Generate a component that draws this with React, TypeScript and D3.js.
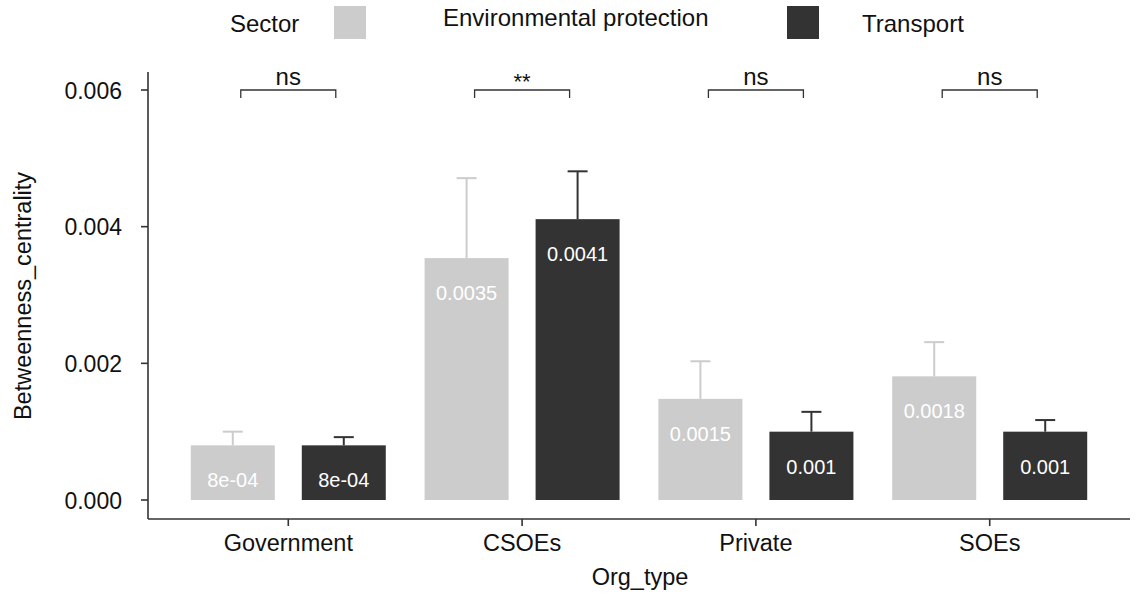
import { useRef, useEffect } from 'react';
import * as d3 from 'd3';

const orgTypes = ['Government', 'CSOEs', 'Private', 'SOEs'];
const sectors = ['Environmental protection', 'Transport'];
const envMeans = [0.0008, 0.00354, 0.00148, 0.00181];
const envUpper = [0.001, 0.00471, 0.00203, 0.00231];
const transMeans = [0.0008, 0.00411, 0.001, 0.001];
const transUpper = [0.00092, 0.00481, 0.00129, 0.00117];
const envLabels = ['8e-04', '0.0035', '0.0015', '0.0018'];
const transLabels = ['8e-04', '0.0041', '0.001', '0.001'];
const signif = ['ns', '**', 'ns', 'ns'];
const yTicks = [0, 0.002, 0.004, 0.006];

const colors = ['#cccccc', '#333333'];
const FONT = '"Liberation Sans", Arial, Helvetica, sans-serif';

function App() {
  const svgRef = useRef(null);

  useEffect(() => {
    const svg = d3.select(svgRef.current);
    svg.selectAll('*').remove();

    const left = 148;
    const right = 1130;
    const axisY = 519;

    const x = d3.scaleBand().domain(orgTypes).range([left, right]).paddingOuter(0.1).paddingInner(0);
    const y = d3.scaleLinear().domain([0, 0.006]).range([500, 90]);

    const step = x.bandwidth();
    const center = (d) => x(d) + step / 2;
    const barW = 84;
    const offset = 55.5;

    const series = [
      { means: envMeans, upper: envUpper, labels: envLabels, dx: -offset, color: colors[0] },
      { means: transMeans, upper: transUpper, labels: transLabels, dx: offset, color: colors[1] },
    ];

    const g = svg.append('g');

    series.forEach((s) => {
      orgTypes.forEach((o, i) => {
        const cx = center(o) + s.dx;
        // error bar (upper whisker only)
        g.append('line')
          .attr('x1', cx).attr('x2', cx)
          .attr('y1', y(s.means[i])).attr('y2', y(s.upper[i]))
          .attr('stroke', s.color).attr('stroke-width', 2);
        g.append('line')
          .attr('x1', cx - 10).attr('x2', cx + 10)
          .attr('y1', y(s.upper[i])).attr('y2', y(s.upper[i]))
          .attr('stroke', s.color).attr('stroke-width', 2);
        g.append('rect')
          .attr('x', cx - barW / 2)
          .attr('y', y(s.means[i]))
          .attr('width', barW)
          .attr('height', y(0) - y(s.means[i]))
          .attr('fill', s.color);
        g.append('text')
          .attr('x', cx)
          .attr('y', y(s.means[i]) + 42)
          .attr('text-anchor', 'middle')
          .attr('fill', 'white')
          .attr('font-size', 20)
          .attr('font-family', FONT)
          .text(s.labels[i]);
      });
    });

    // significance brackets
    orgTypes.forEach((o, i) => {
      const cx = center(o);
      const yb = y(0.006);
      g.append('path')
        .attr('d', `M${cx - 47.5},${yb + 8}V${yb}H${cx + 47.5}V${yb + 8}`)
        .attr('fill', 'none')
        .attr('stroke', '#333')
        .attr('stroke-width', 1.3);
      g.append('text')
        .attr('x', cx)
        .attr('y', signif[i] === '**' ? yb - 1 : yb - 5)
        .attr('text-anchor', 'middle')
        .attr('font-size', signif[i] === '**' ? 22 : 24)
        .attr('font-family', FONT)
        .attr('fill', '#111')
        .text(signif[i]);
    });

    // axes
    const ax = svg.append('g').attr('font-family', FONT);
    ax.append('line')
      .attr('x1', left).attr('x2', left).attr('y1', 72).attr('y2', axisY)
      .attr('stroke', '#333').attr('stroke-width', 1.6);
    ax.append('line')
      .attr('x1', left).attr('x2', right).attr('y1', axisY).attr('y2', axisY)
      .attr('stroke', '#333').attr('stroke-width', 1.6);

    yTicks.forEach((t) => {
      ax.append('line')
        .attr('x1', left - 7).attr('x2', left).attr('y1', y(t)).attr('y2', y(t))
        .attr('stroke', '#333').attr('stroke-width', 1.6);
      ax.append('text')
        .attr('x', left - 26).attr('y', y(t) + 8.5)
        .attr('text-anchor', 'end')
        .attr('font-size', 23)
        .attr('fill', '#111')
        .text(d3.format('.3f')(t));
    });

    orgTypes.forEach((o) => {
      ax.append('line')
        .attr('x1', center(o)).attr('x2', center(o)).attr('y1', axisY).attr('y2', axisY + 7)
        .attr('stroke', '#333').attr('stroke-width', 1.6);
      ax.append('text')
        .attr('x', center(o)).attr('y', 551)
        .attr('text-anchor', 'middle')
        .attr('font-size', 23.5)
        .attr('fill', '#111')
        .text(o);
    });

    ax.append('text')
      .attr('x', 640).attr('y', 585)
      .attr('text-anchor', 'middle')
      .attr('font-size', 23.5)
      .attr('fill', '#111')
      .text('Org_type');

    ax.append('text')
      .attr('transform', 'translate(31,296) rotate(-90)')
      .attr('text-anchor', 'middle')
      .attr('font-size', 23.5)
      .attr('fill', '#111')
      .text('Betweenness_centrality');

    // legend
    const lg = svg.append('g').attr('font-family', FONT).attr('font-size', 24).attr('fill', '#111');
    lg.append('text').attr('x', 230).attr('y', 32).text('Sector');
    const keyX = [334, 787];
    const labX = [443, 862];
    const labY = [26, 32];
    sectors.forEach((s, i) => {
      lg.append('rect')
        .attr('x', keyX[i]).attr('y', 6).attr('width', 32).attr('height', 33)
        .attr('fill', colors[i]);
      lg.append('text').attr('x', labX[i]).attr('y', labY[i]).text(s);
    });

    return () => {
      svg.selectAll('*').remove();
    };
  }, []);

  return (
    <svg
      ref={svgRef}
      width={1135}
      height={595}
      style={{ position: 'absolute', left: 0, top: 0, background: 'white' }}
    />
  );
}

export default App;
